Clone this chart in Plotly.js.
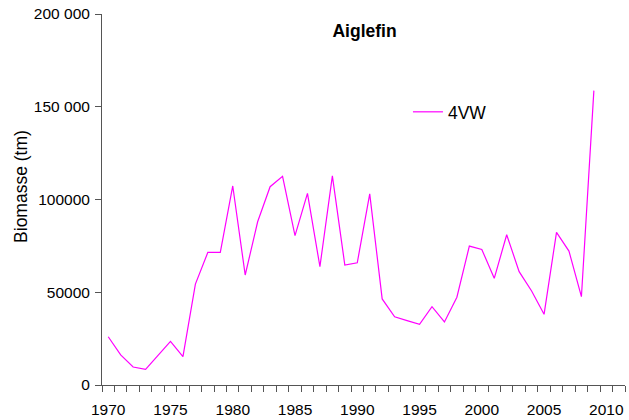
<!DOCTYPE html>
<html>
<head>
<meta charset="utf-8">
<script src="https://cdn.plot.ly/plotly-3.0.1.min.js"></script>
<style>html,body{margin:0;padding:0;background:#fff;}#chart{width:629px;height:420px;}</style>
</head>
<body>
<div id="chart"></div>
<script>
const years = [1970,1971,1972,1973,1974,1975,1976,1977,1978,1979,1980,1981,1982,1983,1984,1985,1986,1987,1988,1989,1990,1991,1992,1993,1994,1995,1996,1997,1998,1999,2000,2001,2002,2003,2004,2005,2006,2007,2008,2009];
const biomass4VW = [26000,16200,9700,8400,16000,23500,15300,54400,71500,71500,107300,59300,88000,106900,112500,80500,103300,63800,112700,64700,65900,103000,46400,36800,34700,32700,42200,34000,47300,74900,73100,57500,81000,61100,50700,38100,82300,72200,47600,158700];
const yTickVals = [0,50000,100000,150000,200000];
const yTickText = ["0","50000","100000","150 000","200 000"];
const xTickVals = [1970,1975,1980,1985,1990,1995,2000,2005,2010];
const xTickText = ["1970","1975","1980","1985","1990","1995","2000","2005","2010"];

const font = "Liberation Sans, Arial, sans-serif";
const axisColor = "#555555";

Plotly.newPlot("chart", [{
  x: years, y: biomass4VW, type: "scatter", mode: "lines", name: "4VW",
  line: {color: "#FF00FF", width: 1.2}
}], {
  width: 629, height: 420,
  margin: {l: 102, r: 4, t: 14, b: 35},
  paper_bgcolor: "#fff", plot_bgcolor: "#fff",
  font: {family: font, color: "#000"},
  title: {text: "<b>Aiglefin</b>", font: {size: 17.5, family: font, color: "#000"},
          xref: "paper", x: 0.502, xanchor: "center", yref: "container", y: 0.927, yanchor: "middle"},
  xaxis: {
    range: [1969.5, 2011.5], showgrid: false, zeroline: false,
    showline: true, linecolor: axisColor, linewidth: 1,
    tickmode: "array", tickvals: xTickVals, ticktext: xTickText,
    ticks: "", tickfont: {size: 15.5, family: font, color: "#000"},
    ticklabelstandoff: 10,
    minor: {ticks: "outside", tick0: 1969.5, dtick: 1, ticklen: 6, tickcolor: axisColor, tickwidth: 1, showgrid: false}
  },
  yaxis: {
    range: [0, 200000], showgrid: false, zeroline: false,
    showline: true, linecolor: axisColor, linewidth: 1,
    tickmode: "array", tickvals: yTickVals, ticktext: yTickText,
    ticks: "outside", ticklen: 6, tickcolor: axisColor,
    tickfont: {size: 15.5, family: font, color: "#000"},
    ticklabelstandoff: 2
  },
  annotations: [{
    text: "Biomasse (tm)", textangle: -90, xref: "paper", yref: "paper",
    x: -0.156, y: 0.535, xanchor: "center", yanchor: "middle", showarrow: false,
    font: {size: 17.5, family: font, color: "#000"}
  }],
  showlegend: true,
  legend: {x: 0.585, y: 0.736, xanchor: "left", yanchor: "middle", bgcolor: "rgba(0,0,0,0)",
           font: {size: 17.5, family: font, color: "#000"}}
}, {staticPlot: true, displayModeBar: false});
</script>
</body>
</html>
